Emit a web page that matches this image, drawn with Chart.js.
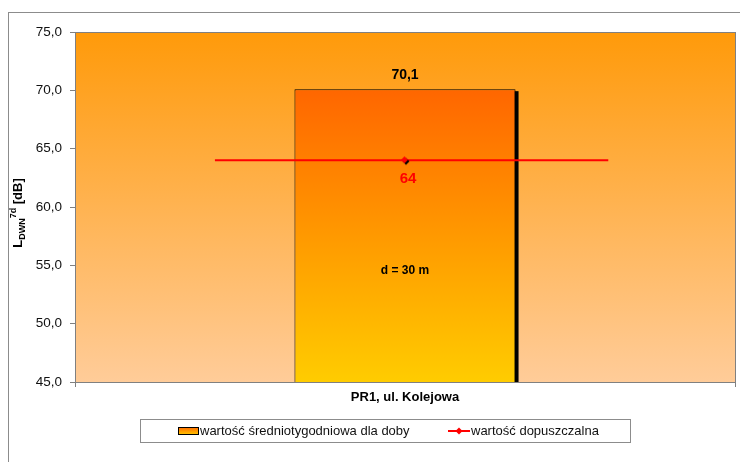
<!DOCTYPE html>
<html><head><meta charset="utf-8">
<script src="https://cdn.jsdelivr.net/npm/chart.js@4"></script>
<style>html,body{margin:0;padding:0;background:#fff;}canvas{display:block;}</style>
</head><body>
<canvas id="c" width="740" height="462"></canvas>
<script>
const categories = ['PR1, ul. Kolejowa'];
const barValues = [70.1];
const barLabels = ['70,1'];
const limitX = [0.212, 0.5, 0.808];
const limitY = [64, 64, 64];
const limitLabel = '64';
const yTickLabels = ['45,0','50,0','55,0','60,0','65,0','70,0','75,0'];
const seriesNames = ['wartość średniotygodniowa dla doby', 'wartość dopuszczalna'];
const noteText = 'd = 30 m';
const noteValue = 54.5;

const FONT = '"Liberation Sans", Arial, sans-serif';

function diamondCanvas(){
  const c = document.createElement('canvas'); c.width = 12; c.height = 12;
  const g = c.getContext('2d');
  function d(cx, cy, r, col){ g.fillStyle = col; g.beginPath(); g.moveTo(cx, cy-r); g.lineTo(cx+r, cy); g.lineTo(cx, cy+r); g.lineTo(cx-r, cy); g.closePath(); g.fill(); }
  d(7, 7, 3.5, '#000');
  d(5.5, 5.5, 3.5, '#ff0000');
  return c;
}
const diamond = diamondCanvas();

const ctxEl = document.getElementById('c');

const decorPlugin = {
  id: 'decor',
  beforeDraw(chart){
    const {ctx, chartArea: a} = chart;
    ctx.save();
    ctx.fillStyle = '#fff'; ctx.fillRect(0,0,chart.width,chart.height);
    ctx.strokeStyle = '#8c8c8c'; ctx.lineWidth = 1;
    ctx.strokeRect(8.5, 12.5, 800, 500);
    const g = ctx.createLinearGradient(0, a.top, 0, a.bottom);
    g.addColorStop(0, '#ff9a0a'); g.addColorStop(1, '#ffcc99');
    ctx.fillStyle = g;
    ctx.fillRect(a.left, a.top, a.right - a.left, a.bottom - a.top);
    ctx.restore();
  },
  beforeDatasetDraw(chart, args){
    if (args.index === 0){
      const {ctx, chartArea: a} = chart;
      ctx.save();
      ctx.fillStyle = '#000';
      args.meta.data.forEach(el => {
        const w = el.width;
        ctx.fillRect(el.x - w/2 + 3, el.y + 2, w, a.bottom - el.y - 2);
      });
      ctx.restore();
    }
  },
  afterDraw(chart){
    const {ctx, chartArea: a, scales} = chart;
    ctx.save();
    ctx.strokeStyle = '#808080'; ctx.lineWidth = 1;
    ctx.strokeRect(Math.round(a.left)+0.5, Math.round(a.top)+0.5, Math.round(a.right-a.left), Math.round(a.bottom-a.top));
    const bm = chart.getDatasetMeta(0);
    ctx.textAlign = 'center'; ctx.textBaseline = 'middle';
    bm.data.forEach((el, i) => {
      ctx.fillStyle = '#000'; ctx.font = 'bold 14px ' + FONT;
      ctx.fillText(barLabels[i], el.x, el.y - 14);
      ctx.font = 'bold 12px ' + FONT;
      ctx.fillText(noteText, el.x, scales.y.getPixelForValue(noteValue));
    });
    const lm = chart.getDatasetMeta(1);
    const mid = lm.data[1];
    ctx.fillStyle = '#ff0000'; ctx.font = 'bold 15px ' + FONT;
    ctx.fillText(limitLabel, mid.x + 3, mid.y + 19);
    // y title: L, sub DWN, sup 7d, [dB]
    ctx.save();
    ctx.translate(22, (a.top + a.bottom)/2 + 6);
    ctx.rotate(-Math.PI/2);
    ctx.fillStyle = '#000'; ctx.textAlign = 'left'; ctx.textBaseline = 'alphabetic';
    const mainF = 'bold 13px ' + FONT, smallF = 'bold 9px ' + FONT;
    const parts = [
      {t:'L', f:mainF, dy:0},
      {t:'DWN', f:smallF, dy:3},
      {t:'7d', f:smallF, dy:-6},
      {t:' [dB]', f:mainF, dy:0}
    ];
    let total = 0;
    parts.forEach(p => { ctx.font = p.f; p.w = ctx.measureText(p.t).width; total += p.w; });
    let x = -total/2;
    parts.forEach(p => { ctx.font = p.f; ctx.fillText(p.t, x, p.dy); x += p.w; });
    ctx.restore();
    // legend
    ctx.strokeStyle = '#8c8c8c'; ctx.lineWidth = 1;
    ctx.strokeRect(140.5, 419.5, 490, 23);
    const ly = 431;
    const lg = ctx.createLinearGradient(0, ly-4, 0, ly+4);
    lg.addColorStop(0, '#ff6600'); lg.addColorStop(1, '#ffcc00');
    ctx.fillStyle = lg; ctx.fillRect(178, ly-4, 20, 7);
    ctx.strokeStyle = '#000'; ctx.strokeRect(178.5, ly-3.5, 20, 7);
    ctx.fillStyle = '#111'; ctx.font = '13px ' + FONT; ctx.textAlign = 'left'; ctx.textBaseline = 'middle';
    ctx.fillText(seriesNames[0], 200, ly);
    ctx.strokeStyle = '#ff0000'; ctx.lineWidth = 2;
    ctx.beginPath(); ctx.moveTo(448, ly); ctx.lineTo(470, ly); ctx.stroke();
    ctx.fillStyle = '#ff0000'; ctx.beginPath(); ctx.moveTo(459, ly-3.5); ctx.lineTo(462.5, ly); ctx.lineTo(459, ly+3.5); ctx.lineTo(455.5, ly); ctx.closePath(); ctx.fill();
    ctx.fillStyle = '#111';
    ctx.fillText(seriesNames[1], 471, ly);
    ctx.restore();
  }
};

new Chart(ctxEl, {
  type: 'bar',
  data: {
    labels: categories,
    datasets: [
      {
        label: seriesNames[0],
        data: barValues,
        backgroundColor: (c) => {
          const ch = c.chart; const a = ch.chartArea;
          if (!a) return '#ff9900';
          const top = ch.scales.y.getPixelForValue(barValues[c.dataIndex] ?? barValues[0]);
          const g = ch.ctx.createLinearGradient(0, top, 0, a.bottom);
          g.addColorStop(0, '#ff6600'); g.addColorStop(1, '#ffcc00');
          return g;
        },
        borderColor: '#000',
        borderWidth: 1,
        borderSkipped: 'bottom',
        categoryPercentage: 1,
        barPercentage: 0.335,
        grouped: false,
        order: 2
      },
      {
        type: 'line',
        label: seriesNames[1],
        xAxisID: 'xl',
        data: limitX.map((x, i) => ({x, y: limitY[i]})),
        borderColor: '#ff0000',
        borderWidth: 2,
        pointStyle: diamond,
        pointRadius: limitX.map((_, i) => i === 1 ? 5 : 0),
        pointHoverRadius: 0,
        fill: false,
        order: 1
      }
    ]
  },
  options: {
    responsive: false,
    animation: false,
    events: [],
    layout: { padding: { left: 8, top: 32, right: 5, bottom: 0 } },
    plugins: { legend: { display: false }, tooltip: { enabled: false } },
    scales: {
      x: {
        afterFit: (s) => { s.height = 80; },
        grid: { drawOnChartArea: false, tickLength: 5, color: '#808080', offset: true },
        border: { color: '#808080' },
        ticks: { padding: 3, color: '#000', font: { family: FONT, size: 13, weight: 'bold' } }
      },
      xl: { type: 'linear', display: false, min: 0, max: 1, offset: false, grid: { offset: false } },
      y: {
        min: 45, max: 75,
        afterFit: (s) => { s.width = 67; },
        grid: { drawOnChartArea: false, tickLength: 5, color: '#808080' },
        border: { color: '#808080' },
        ticks: { stepSize: 5, padding: 8, color: '#111', font: { family: FONT, size: 13.5 },
          callback: (v) => yTickLabels[Math.round((v - 45) / 5)] }
      }
    }
  },
  plugins: [decorPlugin]
});
</script>
</body></html>
